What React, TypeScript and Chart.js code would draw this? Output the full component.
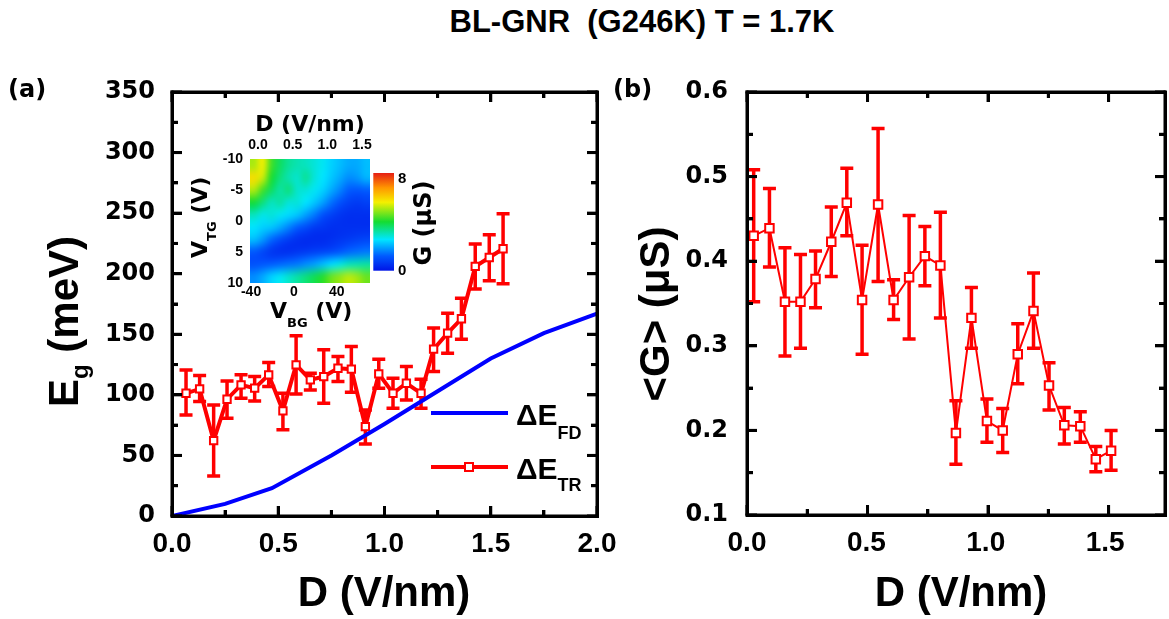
import { useEffect, useRef } from 'react';
import { Chart, registerables } from 'chart.js';

Chart.register(...registerables);

const ARIAL = '"Liberation Sans", Arial, Helvetica, sans-serif';
const WIDE = '"DejaVu Sans", Verdana, sans-serif';
const RED = '#ff0000';
const BLUE = '#0000ff';

// ---- (a) gap energies ----
const dFD = [0, 0.25, 0.47, 0.75, 1.0, 1.25, 1.5, 1.75, 2.0];
const egFD = [0, 10, 23, 50, 76, 103, 130, 151, 167];

const dTR = [0.066, 0.130, 0.196, 0.259, 0.325, 0.389, 0.455, 0.522, 0.584, 0.651, 0.714, 0.781,
  0.844, 0.910, 0.973, 1.040, 1.103, 1.172, 1.231, 1.297, 1.362, 1.427, 1.493, 1.558];
const egTR = [101.3, 104.9, 62.2, 96.4, 108.2, 105.5, 116.5, 86.8, 124.8, 112.4, 115.1, 122.0,
  121.2, 73.8, 117.3, 101.3, 109.6, 101.3, 137.7, 150.9, 162.8, 206.0, 213.4, 220.6];
const egTRHi = [120.6, 115.9, 91.7, 111.5, 116.5, 115.1, 126.7, 101.3, 148.7, 117.9, 137.2, 131.6,
  139.9, 87.6, 129.4, 113.7, 123.4, 112.9, 155.1, 167.4, 179.8, 224.5, 232.2, 249.5];
const egTRLo = [83.4, 94.5, 33.0, 80.7, 97.2, 95.0, 106.9, 71.1, 100.8, 104.1, 93.1, 111.0,
  102.2, 59.5, 105.5, 89.0, 95.8, 89.0, 119.2, 134.4, 146.0, 187.3, 194.2, 191.7];

const xRangeA = [0, 2];
const yRangeA = [0, 350];
const xTicksA = [0, 0.5, 1.0, 1.5, 2.0];
const xMinorA = [0.25, 0.75, 1.25, 1.75];
const yTicksA = [0, 50, 100, 150, 200, 250, 300, 350];
const yMinorA = [25, 75, 125, 175, 225, 275, 325];

// ---- (b) mean conductance ----
const dG = [0.028, 0.094, 0.159, 0.224, 0.287, 0.353, 0.418, 0.482, 0.549, 0.614, 0.679, 0.745,
  0.810, 0.875, 0.940, 1.005, 1.071, 1.134, 1.200, 1.265, 1.329, 1.396, 1.461, 1.525];
const gAvg = [0.430, 0.439, 0.352, 0.352, 0.379, 0.423, 0.469, 0.354, 0.467, 0.354, 0.381, 0.406,
  0.395, 0.197, 0.333, 0.211, 0.200, 0.290, 0.341, 0.253, 0.206, 0.205, 0.166, 0.176];
const gHi = [0.508, 0.486, 0.416, 0.408, 0.412, 0.464, 0.510, 0.419, 0.557, 0.378, 0.454, 0.441,
  0.458, 0.235, 0.369, 0.237, 0.226, 0.326, 0.386, 0.280, 0.227, 0.222, 0.181, 0.200];
const gLo = [0.352, 0.393, 0.288, 0.297, 0.345, 0.382, 0.430, 0.290, 0.376, 0.331, 0.308, 0.371,
  0.333, 0.160, 0.297, 0.186, 0.174, 0.255, 0.297, 0.224, 0.184, 0.186, 0.151, 0.153];

const xRangeB = [0, 1.734];
const yRangeB = [0.1, 0.6];
const xTicksB = [0, 0.5, 1.0, 1.5];
const xMinorB = [0.25, 0.75, 1.25];
const yTicksB = [0.1, 0.2, 0.3, 0.4, 0.5, 0.6];
const yMinorB = [0.15, 0.25, 0.35, 0.45, 0.55];

// ---- inset conductance map G(V_BG, V_TG) in µS ----
const vbgRange = [-41, 71];
const vtgRange = [-10, 10];
const dRangeInset = [-0.115, 1.615];
const vbgTicks = [-40, 0, 40];
const vtgTicks = [-10, -5, 0, 5, 10];
const dTicksInset = [0.0, 0.5, 1.0, 1.5];
const gRange = [0, 8.5];
const gTicks = [0, 8];
// rows: V_TG from -10 (top) to 10 (bottom); columns: V_BG from -41 to 71
const gMap = [
  [5.4, 5.9, 4.6, 3.9, 3.5, 3.3, 3.2, 3.0, 2.8, 2.5, 2.3, 2.1, 2.1, 2.3],
  [6.2, 5.6, 4.3, 3.7, 3.3, 3.1, 3.5, 3.0, 2.7, 2.4, 2.1, 1.8, 1.9, 2.2],
  [5.4, 4.6, 3.9, 3.4, 3.7, 3.1, 3.0, 2.8, 2.5, 2.1, 1.7, 1.3, 1.2, 1.3],
  [4.2, 3.7, 3.2, 3.4, 3.0, 3.0, 2.7, 2.4, 2.0, 1.5, 1.1, 0.8, 0.7, 0.8],
  [3.2, 2.9, 3.0, 2.8, 2.6, 2.4, 2.0, 1.6, 1.1, 0.8, 0.6, 0.5, 0.5, 0.5],
  [2.7, 2.5, 2.4, 2.1, 1.7, 1.3, 1.0, 0.7, 0.6, 0.5, 0.5, 0.5, 0.5, 0.5],
  [2.3, 1.9, 1.4, 1.0, 0.7, 0.5, 0.4, 0.4, 0.4, 0.5, 0.6, 0.7, 0.8, 0.9],
  [1.2, 0.9, 0.6, 0.5, 0.5, 0.6, 0.7, 0.8, 0.9, 1.0, 1.2, 1.4, 1.5, 1.6],
  [1.1, 1.2, 1.3, 1.4, 1.5, 1.6, 1.8, 2.0, 2.3, 2.6, 2.9, 3.2, 3.3, 3.4],
  [1.8, 2.1, 2.5, 2.8, 3.1, 3.4, 3.7, 4.0, 4.4, 4.9, 5.2, 5.5, 5.3, 4.9],
];

// colour scale: blue -> cyan -> green -> yellow -> red
const cmap: number[][] = [
  [0.0, 0, 20, 230], [0.15, 0, 90, 255], [0.32, 0, 230, 255], [0.5, 20, 220, 50],
  [0.7, 245, 240, 0], [0.85, 255, 150, 0], [1.0, 230, 30, 20],
];
function colorAt(t: number): number[] {
  const u = Math.max(0, Math.min(1, t));
  for (let i = 1; i < cmap.length; i++) {
    if (u <= cmap[i][0]) {
      const a = cmap[i - 1], b = cmap[i];
      const f = (u - a[0]) / (b[0] - a[0]);
      return [0, 1, 2].map((k) => Math.round(a[k + 1] + f * (b[k + 1] - a[k + 1])));
    }
  }
  const l = cmap[cmap.length - 1];
  return [l[1], l[2], l[3]];
}

type Run = { text: string; font: string; dy?: number };
function runsWidth(ctx: CanvasRenderingContext2D, runs: Run[]) {
  let w = 0;
  for (const r of runs) { ctx.font = r.font; w += ctx.measureText(r.text).width; }
  return w;
}
function drawRuns(ctx: CanvasRenderingContext2D, runs: Run[], x: number, y: number, angle = 0) {
  ctx.save();
  ctx.translate(x, y);
  ctx.rotate(angle);
  ctx.textBaseline = 'alphabetic';
  ctx.textAlign = 'left';
  ctx.fillStyle = '#000';
  let cx = 0;
  for (const r of runs) {
    ctx.font = r.font;
    ctx.fillText(r.text, cx, r.dy || 0);
    cx += ctx.measureText(r.text).width;
  }
  ctx.restore();
}

type Box = { left: number; top: number; width: number; height: number };
type Area = { L: number; R: number; T: number; B: number };

// plot box with inward major/minor ticks on all four sides
function frameBoxes(area: Area, xr: number[], yr: number[], xMajor: number[], xMinor: number[],
  yMajor: number[], yMinor: number[]): Box[] {
  const { L, R, T, B } = area;
  const px = (v: number) => L + ((v - xr[0]) / (xr[1] - xr[0])) * (R - L);
  const py = (v: number) => B - ((v - yr[0]) / (yr[1] - yr[0])) * (B - T);
  const w = 3, h = w / 2;
  const out: Box[] = [];
  const xt = (v: number, len: number) => {
    const p = px(v);
    out.push({ left: p - h, top: B - len, width: w, height: len });
    out.push({ left: p - h, top: T, width: w, height: len });
  };
  const yt = (v: number, len: number) => {
    const p = py(v);
    out.push({ left: L, top: p - h, width: len, height: w });
    out.push({ left: R - len, top: p - h, width: len, height: w });
  };
  xMajor.forEach((v) => xt(v, 10)); xMinor.forEach((v) => xt(v, 6));
  yMajor.forEach((v) => yt(v, 10)); yMinor.forEach((v) => yt(v, 6));
  out.push({ left: L - h, top: T - h, width: R - L + w, height: w });
  out.push({ left: L - h, top: B - h, width: R - L + w, height: w });
  out.push({ left: L - h, top: T - h, width: w, height: B - T + w });
  out.push({ left: R - h, top: T - h, width: w, height: B - T + w });
  return out;
}

// plot areas of the two panels on the page
const areaA: Area = { L: 172, R: 597, T: 92, B: 516 };
const areaB: Area = { L: 747, R: 1165, T: 92, B: 515 };
const frameA = frameBoxes(areaA, xRangeA, yRangeA, xTicksA, xMinorA, yTicksA, yMinorA);
const frameB = frameBoxes(areaB, xRangeB, yRangeB, xTicksB, xMinorB, yTicksB, yMinorB);

function paintBoxes(ctx: CanvasRenderingContext2D, boxes: Box[], dx: number) {
  ctx.save();
  ctx.fillStyle = '#000';
  boxes.forEach((b) => ctx.fillRect(b.left - dx, b.top, b.width, b.height));
  ctx.restore();
}

function errorBars(index: number, xs: number[], lo: number[], hi: number[], width: number, cap: number) {
  return {
    id: 'errorBars',
    beforeDatasetDraw(chart: any, args: any) {
      if (args.index !== index) return;
      const { ctx } = chart;
      const sx = chart.scales.x, sy = chart.scales.y;
      ctx.save();
      ctx.strokeStyle = RED;
      ctx.lineWidth = width;
      xs.forEach((x, i) => {
        const px = sx.getPixelForValue(x);
        const p1 = sy.getPixelForValue(lo[i]);
        const p2 = sy.getPixelForValue(hi[i]);
        ctx.beginPath();
        ctx.moveTo(px, p1); ctx.lineTo(px, p2);
        ctx.moveTo(px - cap / 2, p1); ctx.lineTo(px + cap / 2, p1);
        ctx.moveTo(px - cap / 2, p2); ctx.lineTo(px + cap / 2, p2);
        ctx.stroke();
      });
      ctx.restore();
    },
  };
}

function fixedTicks(values: number[]) {
  return (s: any) => { s.ticks = values.map((v) => ({ value: v })); };
}

function axis(values: number[], font: any, padding: number, fmt: (v: number) => string, extra: any = {}) {
  return {
    type: 'linear',
    grid: { display: false, drawTicks: false },
    border: { display: false },
    afterBuildTicks: fixedTicks(values),
    ticks: {
      font, padding, color: '#000', autoSkip: false, maxRotation: 0,
      callback: (v: any) => fmt(Number(v)),
    },
    ...extra,
  };
}

const tickFontX = { family: ARIAL, weight: 'bold', size: 28 };
const tickFontY = { family: WIDE, weight: 'bold', size: 24 };

function makePanelA(canvas: HTMLCanvasElement) {
  const labels = {
    id: 'labelsA',
    afterDraw(chart: any) {
      const ctx = chart.ctx as CanvasRenderingContext2D;
      paintBoxes(ctx, frameA, 0);
      drawRuns(ctx, [{ text: '(a)', font: `bold 24px ${WIDE}` }], 8, 97);
      drawRuns(ctx, [
        { text: 'E', font: `bold 42px ${ARIAL}` },
        { text: 'g', font: `bold 24px ${ARIAL}`, dy: 10 },
        { text: ' (meV)', font: `bold 42px ${ARIAL}` },
      ], 78, 407, -Math.PI / 2);
      const xt = [{ text: 'D (V/nm)', font: `bold 42px ${ARIAL}` }];
      drawRuns(ctx, xt, 384 - runsWidth(ctx, xt) / 2, 606);
      // legend
      ctx.save();
      ctx.lineWidth = 4;
      ctx.strokeStyle = BLUE;
      ctx.beginPath(); ctx.moveTo(431, 413); ctx.lineTo(508, 413); ctx.stroke();
      ctx.strokeStyle = RED;
      ctx.beginPath(); ctx.moveTo(431, 467); ctx.lineTo(508, 467); ctx.stroke();
      ctx.fillStyle = '#fff';
      ctx.fillRect(465, 463, 8, 8);
      ctx.lineWidth = 2;
      ctx.strokeRect(465, 463, 8, 8);
      ctx.restore();
      drawRuns(ctx, [
        { text: 'ΔE', font: `bold 30px ${ARIAL}` },
        { text: 'FD', font: `bold 18px ${ARIAL}`, dy: 14 },
      ], 516, 425);
      drawRuns(ctx, [
        { text: 'ΔE', font: `bold 30px ${ARIAL}` },
        { text: 'TR', font: `bold 18px ${ARIAL}`, dy: 12 },
      ], 516, 479);
    },
  };
  return new Chart(canvas, {
    type: 'scatter',
    data: {
      datasets: [
        {
          data: dFD.map((x, i) => ({ x, y: egFD[i] })),
          showLine: true, borderColor: BLUE, borderWidth: 4, pointRadius: 0, tension: 0,
        },
        {
          data: dTR.map((x, i) => ({ x, y: egTR[i] })),
          showLine: true, borderColor: RED, borderWidth: 4, tension: 0,
          pointStyle: 'rect', pointRadius: 5.2, pointBackgroundColor: '#fff',
          pointBorderColor: RED, pointBorderWidth: 2,
        },
      ],
    },
    options: {
      responsive: false, animation: false,
      layout: { padding: { left: 0, right: 43, top: 92, bottom: 0 } },
      plugins: { legend: { display: false }, tooltip: { enabled: false } },
      scales: {
        x: axis(xTicksA, tickFontX, 11, (v) => v.toFixed(1), {
          min: xRangeA[0], max: xRangeA[1], afterFit: (s: any) => { s.height = 103; },
        }),
        y: axis(yTicksA, tickFontY, 17, (v) => String(Math.round(v)), {
          min: yRangeA[0], max: yRangeA[1], afterFit: (s: any) => { s.width = 172; },
        }),
      },
    } as any,
    plugins: [errorBars(1, dTR, egTRLo, egTRHi, 3.5, 13), labels],
  });
}

function makePanelB(canvas: HTMLCanvasElement) {
  const labels = {
    id: 'labelsB',
    afterDraw(chart: any) {
      const ctx = chart.ctx as CanvasRenderingContext2D;
      paintBoxes(ctx, frameB, 610);
      drawRuns(ctx, [{ text: '(b)', font: `bold 24px ${WIDE}` }], 3, 97);
      const yt = [{ text: '<G> (μS)', font: `bold 42px ${ARIAL}` }];
      drawRuns(ctx, yt, 59, 314 + runsWidth(ctx, yt) / 2, -Math.PI / 2);
      const xt = [{ text: 'D (V/nm)', font: `bold 42px ${ARIAL}` }];
      drawRuns(ctx, xt, 351 - runsWidth(ctx, xt) / 2, 606);
    },
  };
  return new Chart(canvas, {
    type: 'scatter',
    data: {
      datasets: [
        {
          data: dG.map((x, i) => ({ x, y: gAvg[i] })),
          showLine: true, borderColor: RED, borderWidth: 2, tension: 0,
          pointStyle: 'rect', pointRadius: 6, pointBackgroundColor: '#fff',
          pointBorderColor: RED, pointBorderWidth: 2,
        },
      ],
    },
    options: {
      responsive: false, animation: false,
      layout: { padding: { left: 0, right: 4, top: 92, bottom: 0 } },
      plugins: { legend: { display: false }, tooltip: { enabled: false } },
      scales: {
        x: axis(xTicksB, tickFontX, 11, (v) => v.toFixed(1), {
          min: xRangeB[0], max: xRangeB[1], afterFit: (s: any) => { s.height = 104; },
        }),
        y: axis(yTicksB, tickFontY, 19, (v) => v.toFixed(1), {
          min: yRangeB[0], max: yRangeB[1], afterFit: (s: any) => { s.width = 137; },
        }),
      },
    } as any,
    plugins: [errorBars(0, dG, gLo, gHi, 3.5, 13), labels],
  });
}

function makeInset(canvas: HTMLCanvasElement) {
  const heat = {
    id: 'heatmap',
    beforeDatasetsDraw(chart: any) {
      const ctx = chart.ctx as CanvasRenderingContext2D;
      const sx = chart.scales.x, sy = chart.scales.y;
      const rows = gMap.length, cols = gMap[0].length;
      const off = document.createElement('canvas');
      off.width = cols; off.height = rows;
      const octx = off.getContext('2d')!;
      const img = octx.createImageData(cols, rows);
      for (let r = 0; r < rows; r++) {
        for (let c = 0; c < cols; c++) {
          const [R, G, B] = colorAt((gMap[r][c] - gRange[0]) / (gRange[1] - gRange[0]));
          const k = (r * cols + c) * 4;
          img.data[k] = R; img.data[k + 1] = G; img.data[k + 2] = B; img.data[k + 3] = 255;
        }
      }
      octx.putImageData(img, 0, 0);
      const x0 = sx.getPixelForValue(vbgRange[0]), x1 = sx.getPixelForValue(vbgRange[1]);
      const y0 = sy.getPixelForValue(vtgRange[0]), y1 = sy.getPixelForValue(vtgRange[1]);
      ctx.save();
      ctx.imageSmoothingEnabled = true;
      ctx.imageSmoothingQuality = 'high';
      ctx.drawImage(off, x0, y0, x1 - x0, y1 - y0);
      ctx.restore();
    },
    afterDraw(chart: any) {
      const ctx = chart.ctx as CanvasRenderingContext2D;
      const t = [{ text: 'D (V/nm)', font: `bold 22px ${WIDE}` }];
      drawRuns(ctx, t, 130 - runsWidth(ctx, t) / 2, 31);
      drawRuns(ctx, [
        { text: 'V', font: `bold 22px ${WIDE}` },
        { text: 'TG', font: `bold 13px ${WIDE}`, dy: 9 },
        { text: ' (V)', font: `bold 22px ${WIDE}` },
      ], 27, 158, -Math.PI / 2);
      drawRuns(ctx, [
        { text: 'V', font: `bold 22px ${WIDE}` },
        { text: 'BG', font: `bold 13px ${WIDE}`, dy: 9 },
        { text: ' (V)', font: `bold 22px ${WIDE}` },
      ], 90, 218);
    },
  };
  const f = { family: ARIAL, weight: 'bold', size: 14 };
  return new Chart(canvas, {
    type: 'scatter',
    data: { datasets: [{ data: [] }] },
    options: {
      responsive: false, animation: false,
      layout: { padding: { left: 0, right: 10, top: 0, bottom: 0 } },
      plugins: { legend: { display: false }, tooltip: { enabled: false } },
      scales: {
        x: axis(vbgTicks, f, 1, (v) => String(v), {
          position: 'bottom', min: vbgRange[0], max: vbgRange[1],
          afterFit: (s: any) => { s.height = 57.3; },
        }),
        x2: axis(dTicksInset, f, 6, (v) => v.toFixed(1), {
          position: 'top', axis: 'x', min: dRangeInset[0], max: dRangeInset[1],
          afterFit: (s: any) => { s.height = 59.3; },
        }),
        y: axis(vtgTicks, f, 7, (v) => String(v), {
          position: 'left', min: vtgRange[0], max: vtgRange[1], reverse: true,
          afterFit: (s: any) => { s.width = 70; },
        }),
      },
    } as any,
    plugins: [heat],
  });
}

function makeColorbar(canvas: HTMLCanvasElement) {
  const bar = {
    id: 'colorbar',
    beforeDatasetsDraw(chart: any) {
      const ctx = chart.ctx as CanvasRenderingContext2D;
      const sy = chart.scales.y;
      const a = chart.chartArea;
      const yb = sy.getPixelForValue(gRange[0]), yt = sy.getPixelForValue(gRange[1]);
      const grad = ctx.createLinearGradient(0, yb, 0, yt);
      cmap.forEach((s) => grad.addColorStop(s[0], `rgb(${s[1]},${s[2]},${s[3]})`));
      ctx.save();
      ctx.fillStyle = grad;
      ctx.fillRect(a.left, yt, a.right - a.left, yb - yt);
      ctx.restore();
    },
    afterDraw(chart: any) {
      const ctx = chart.ctx as CanvasRenderingContext2D;
      const t = [{ text: 'G (μS)', font: `bold 24px ${WIDE}` }];
      drawRuns(ctx, t, 71, 63 + runsWidth(ctx, t) / 2, -Math.PI / 2);
    },
  };
  const f = { family: ARIAL, weight: 'bold', size: 15 };
  return new Chart(canvas, {
    type: 'scatter',
    data: { datasets: [{ data: [] }] },
    options: {
      responsive: false, animation: false,
      layout: { padding: { left: 13.3, right: 0, top: 11.7, bottom: 19.3 } },
      plugins: { legend: { display: false }, tooltip: { enabled: false } },
      scales: {
        x: { display: false },
        y: axis(gTicks, f, 4, (v) => String(v), {
          position: 'right', min: gRange[0], max: gRange[1],
          afterFit: (s: any) => { s.width = 46; },
        }),
      },
    } as any,
    plugins: [bar],
  });
}

export default function App() {
  const aRef = useRef<HTMLCanvasElement>(null);
  const bRef = useRef<HTMLCanvasElement>(null);
  const insetRef = useRef<HTMLCanvasElement>(null);
  const barRef = useRef<HTMLCanvasElement>(null);

  useEffect(() => {
    const charts = [
      makePanelA(aRef.current!),
      makePanelB(bRef.current!),
      makeInset(insetRef.current!),
      makeColorbar(barRef.current!),
    ];
    return () => charts.forEach((c) => c.destroy());
  }, []);

  const abs = (left: number, top: number) => ({ position: 'absolute' as const, left, top });
  return (
    <div style={{ position: 'fixed', left: 0, top: 0, width: 1169, height: 619, background: '#fff' }}>
      <div style={{
        position: 'absolute', left: 342, top: 7, width: 600, textAlign: 'center',
        font: `bold 31px ${ARIAL}`, lineHeight: '30px', whiteSpace: 'pre', color: '#000',
      }}>BL-GNR  (G246K) T = 1.7K</div>
      <canvas ref={aRef} width={640} height={619} style={abs(0, 0)} />
      <canvas ref={bRef} width={559} height={619} style={abs(610, 0)} />
      <canvas ref={insetRef} width={200} height={240} style={abs(180, 100)} />
      <canvas ref={barRef} width={80} height={130} style={abs(360, 160)} />
      {[...frameA, ...frameB].map((f, i) => (
        <div key={i} style={{ position: 'absolute', left: f.left, top: f.top, width: f.width, height: f.height, background: '#000' }} />
      ))}
    </div>
  );
}
